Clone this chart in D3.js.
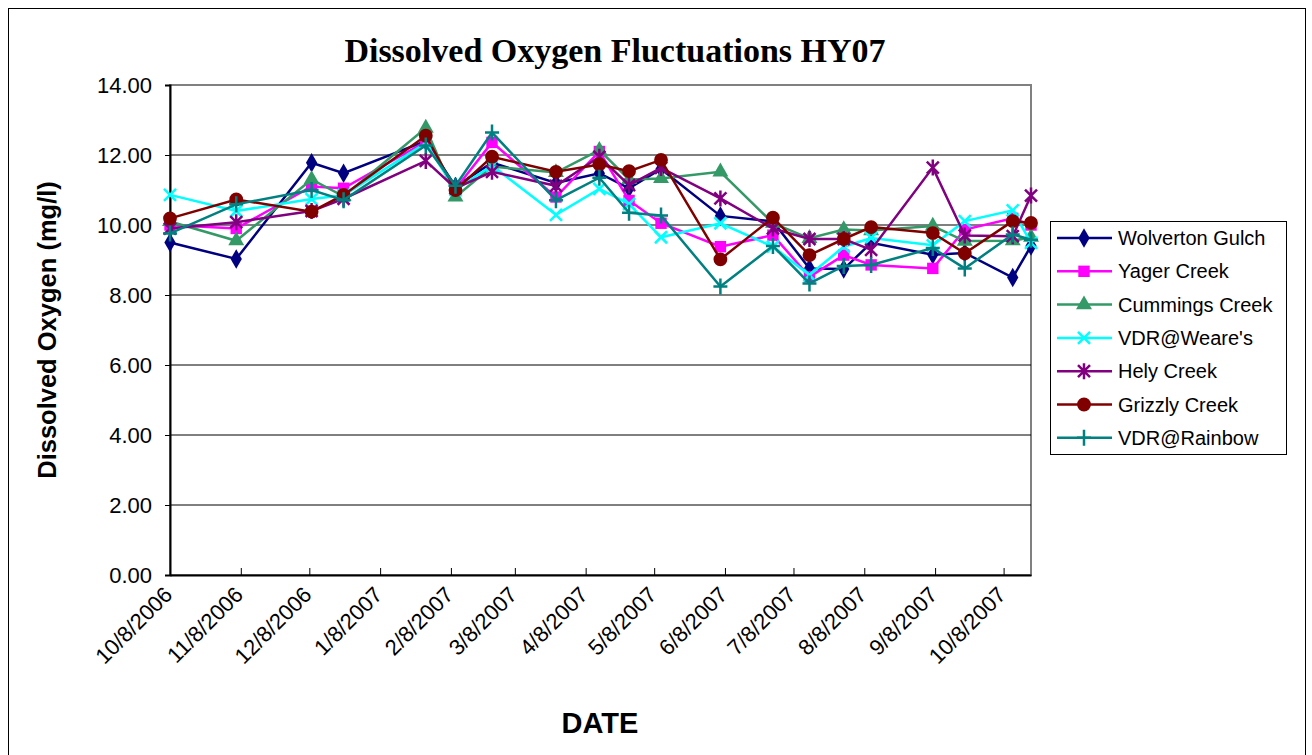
<!DOCTYPE html>
<html lang="en">
<head>
    <meta charset="UTF-8">
    <title>Dissolved Oxygen Fluctuations HY07</title>
    <style>
        body { margin: 0; background: #fff; }
        text { font-family: Arial, "Liberation Sans", sans-serif; }
    </style>
</head>
<body>
    <svg width="1312" height="755"></svg>
    <script src="https://d3js.org/d3.v7.min.js"></script>
    <script>
        // sample dates (month/day/year as on the sheet)
        var dates = ["10/8/2006", "11/6/2006", "12/9/2006", "12/23/2006", "1/28/2007", "2/10/2007",
                     "2/26/2007", "3/26/2007", "4/14/2007", "4/27/2007", "5/11/2007", "6/6/2007",
                     "6/29/2007", "7/15/2007", "7/30/2007", "8/11/2007", "9/7/2007", "9/21/2007",
                     "10/12/2007", "10/20/2007"];

        var tickLabels = ["10/8/2006", "11/8/2006", "12/8/2006", "1/8/2007", "2/8/2007", "3/8/2007",
                          "4/8/2007", "5/8/2007", "6/8/2007", "7/8/2007", "8/8/2007", "9/8/2007", "10/8/2007"];

        var yTicks = [0, 2, 4, 6, 8, 10, 12, 14];

        var wolverton = [9.5, 9.03, 11.78, 11.48, 12.4, 11.1, 11.78, 11.2, 11.48, 11.05, 11.6, 10.26, 10.1, 8.76, 8.74, 9.49, 9.15, 9.2, 8.5, 9.4];
        var yager     = [10.0, 9.9, 11.1, 11.05, 12.38, 11.03, 12.36, 10.8, 12.1, 10.7, 10.05, 9.38, 9.71, 8.52, 9.14, 8.86, 8.76, 9.87, 10.19, 10.0];
        var cummings  = [10.1, 9.55, 11.3, 10.82, 12.77, 10.8, 11.67, 11.5, 12.14, 11.3, 11.33, 11.52, 10.05, 9.62, 9.87, 9.84, 9.97, 9.54, 9.55, 9.65];
        var weares    = [10.86, 10.4, 10.74, 10.85, 12.34, 11.0, 11.7, 10.29, 11.03, 10.6, 9.65, 10.05, 9.38, 8.57, 9.38, 9.63, 9.42, 10.11, 10.42, 9.49];
        var hely      = [9.9, 10.08, 10.4, 10.75, 11.83, 11.05, 11.52, 11.12, 11.95, 11.14, 11.63, 10.76, 9.9, 9.6, 9.6, 9.29, 11.64, 9.7, 9.68, 10.84];
        var grizzly   = [10.19, 10.73, 10.38, 10.86, 12.55, 11.0, 11.95, 11.52, 11.73, 11.54, 11.86, 9.02, 10.21, 9.14, 9.6, 9.94, 9.77, 9.19, 10.11, 10.06];
        var rainbow   = [9.76, 10.59, 11.0, 10.71, 12.27, 11.12, 12.64, 10.71, 11.35, 10.35, 10.27, 8.24, 9.4, 8.33, 8.83, 8.86, 9.34, 8.76, 9.73, 9.58];

        var seriesNames = ["Wolverton Gulch", "Yager Creek", "Cummings Creek", "VDR@Weare's", "Hely Creek", "Grizzly Creek", "VDR@Rainbow"];
        var seriesValues = [wolverton, yager, cummings, weares, hely, grizzly, rainbow];
        var seriesColors = ["#000080", "#ff00ff", "#339966", "#00ffff", "#800080", "#800000", "#008080"];
        var seriesMarkers = ["diamond", "square", "triangle", "x", "star", "circle", "plus"];

        var parse = d3.timeParse("%m/%d/%Y");

        var svg = d3.select("svg"),
            margin = {top: 85, right: 281, bottom: 180, left: 170},
            width = 1312 - margin.left - margin.right,
            height = 755 - margin.top - margin.bottom;

        var x = d3.scaleTime()
            .domain([parse("10/8/2006"), parse("10/20/2007")])
            .range([0, width]);
        var y = d3.scaleLinear().domain([0, 14]).range([height, 0]);

        // chart outline
        svg.append("rect")
            .attr("x", 8.5).attr("y", 8.5)
            .attr("width", 1297).attr("height", 760)
            .attr("fill", "none").attr("stroke", "#000").attr("stroke-width", 1);

        svg.append("text")
            .attr("x", 615).attr("y", 62)
            .attr("text-anchor", "middle")
            .style("font-family", "'Times New Roman', 'Liberation Serif', serif")
            .style("font-weight", "bold")
            .style("font-size", "34px")
            .text("Dissolved Oxygen Fluctuations HY07");

        var g = svg.append("g")
            .attr("transform", "translate(" + margin.left + "," + margin.top + ")");

        // plot area frame (grey top/right) and gridlines
        g.append("rect")
            .attr("width", width).attr("height", height)
            .attr("fill", "#fff").attr("stroke", "#808080").attr("stroke-width", 2);

        g.selectAll(".grid")
            .data(yTicks.slice(1, -1))
            .enter().append("line")
            .attr("x1", 0).attr("x2", width)
            .attr("y1", function(d) { return y(d); })
            .attr("y2", function(d) { return y(d); })
            .attr("stroke", "#000").attr("stroke-width", 1);

        // y axis
        var yAxis = g.append("g")
            .call(d3.axisLeft(y).tickValues(yTicks).tickSize(5).tickPadding(13).tickFormat(d3.format(".2f")));
        yAxis.select(".domain").attr("stroke-width", 2);
        yAxis.selectAll("text").style("font-size", "22px").attr("fill", "#000");

        // x axis, ticks pointing up into the plot
        var xAxis = g.append("g")
            .attr("transform", "translate(0," + height + ")")
            .call(d3.axisBottom(x).tickValues(tickLabels.map(parse)).tickSize(-7).tickSizeOuter(0)
                .tickFormat(function(d, i) { return tickLabels[i]; }));
        xAxis.select(".domain").attr("stroke-width", 2);
        xAxis.selectAll("text")
            .style("font-size", "22px")
            .attr("fill", "#000")
            .attr("text-anchor", "end")
            .attr("dy", 0)
            .attr("transform", "translate(1,19) rotate(-45)");

        svg.append("text")
            .attr("transform", "translate(56,330) rotate(-90)")
            .attr("text-anchor", "middle")
            .style("font-weight", "bold").style("font-size", "25.5px")
            .text("Dissolved Oxygen (mg/l)");

        svg.append("text")
            .attr("x", 600).attr("y", 733)
            .attr("text-anchor", "middle")
            .style("font-weight", "bold").style("font-size", "29px")
            .text("DATE");

        function marker(sel, type, color) {
            if (type == "x" || type == "star" || type == "plus") {
                var p = "";
                if (type != "plus") p += "M-6,-6L6,6M-6,6L6,-6";
                if (type != "x") p += "M0,-8L0,8";
                if (type == "plus") p += "M-7,0L7,0";
                sel.append("path").attr("d", p).attr("fill", "none")
                    .attr("stroke", color).attr("stroke-width", 2.5);
            } else {
                var sym = {diamond: d3.symbolDiamond, square: d3.symbolSquare, triangle: d3.symbolTriangle, circle: d3.symbolCircle}[type];
                var size = {diamond: 110, square: 130, triangle: 110, circle: 150}[type];
                sel.append("path").attr("d", d3.symbol().type(sym).size(size)).attr("fill", color);
            }
        }

        var line = d3.line()
            .x(function(d) { return x(d.date); })
            .y(function(d) { return y(d.value); });

        seriesValues.forEach(function(vals, s) {
            var pts = vals.map(function(v, i) { return {date: parse(dates[i]), value: v}; });
            var sg = g.append("g");
            sg.append("path")
                .datum(pts)
                .attr("fill", "none")
                .attr("stroke", seriesColors[s])
                .attr("stroke-width", 2.5)
                .attr("d", line);
            sg.selectAll(".pt")
                .data(pts)
                .enter().append("g")
                .attr("transform", function(d) { return "translate(" + x(d.date) + "," + y(d.value) + ")"; })
                .each(function() { marker(d3.select(this), seriesMarkers[s], seriesColors[s]); });
        });

        // legend
        var legend = svg.append("g").attr("transform", "translate(1050,221)");
        legend.append("rect")
            .attr("x", 0.5).attr("y", 0.5).attr("width", 236).attr("height", 233)
            .attr("fill", "#fff").attr("stroke", "#000");
        seriesNames.forEach(function(name, s) {
            var row = legend.append("g").attr("transform", "translate(0," + (17 + s * 33.3) + ")");
            row.append("line").attr("x1", 7).attr("x2", 62)
                .attr("stroke", seriesColors[s]).attr("stroke-width", 2.5);
            marker(row.append("g").attr("transform", "translate(34,0)"), seriesMarkers[s], seriesColors[s]);
            row.append("text").attr("x", 68).attr("y", 7)
                .style("font-size", "20px").text(name);
        });
    </script>
</body>
</html>
